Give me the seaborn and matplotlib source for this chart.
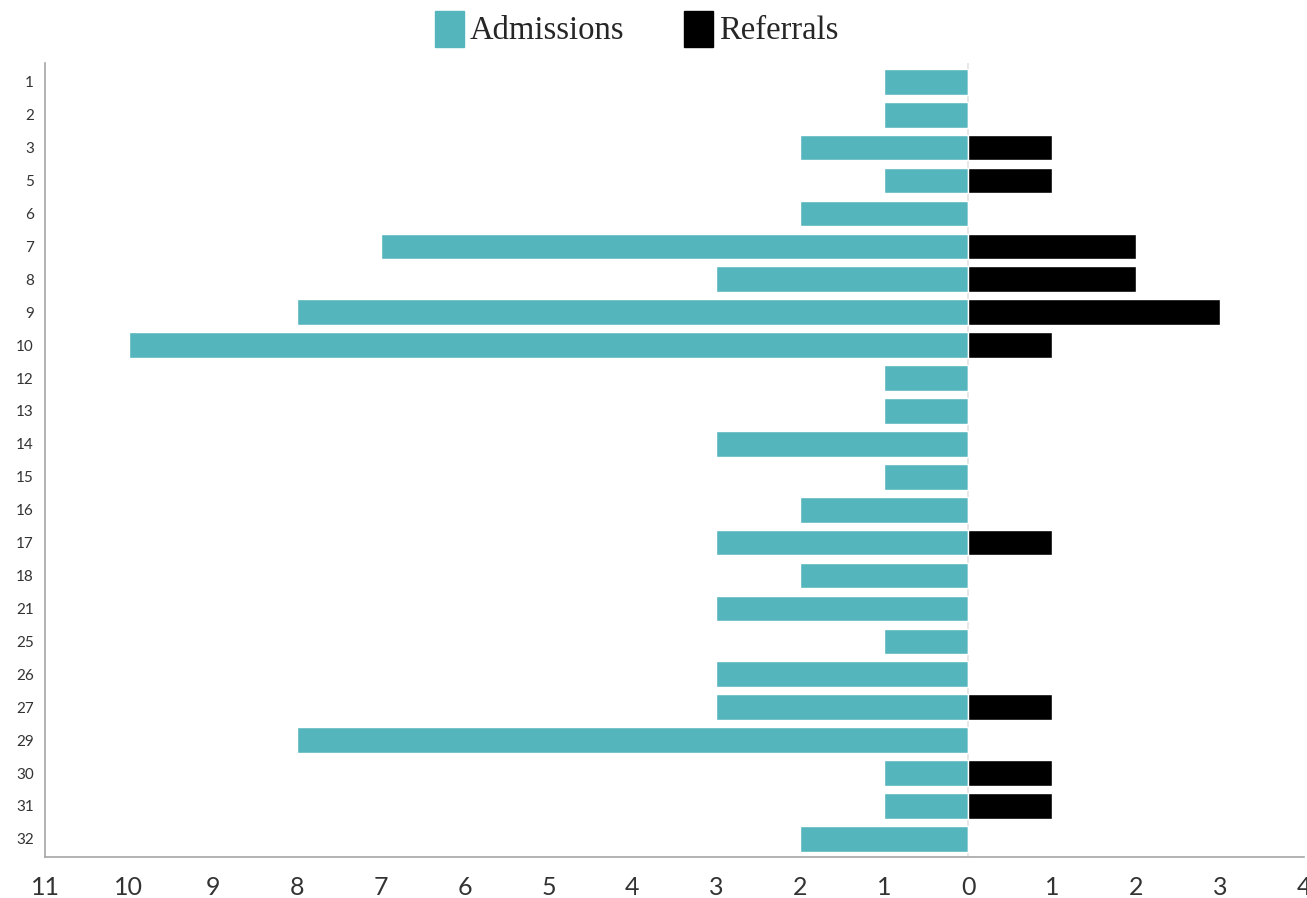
import matplotlib
matplotlib.use("Agg")
import matplotlib.pyplot as plt
from matplotlib.patches import Patch
from matplotlib.ticker import FuncFormatter, MultipleLocator
import pandas as pd
import seaborn as sns

# Weekly counts per category
categories = ["1", "2", "3", "5", "6", "7", "8", "9", "10", "12", "13", "14",
              "15", "16", "17", "18", "21", "25", "26", "27", "29", "30", "31", "32"]
admissions = [1, 1, 2, 1, 2, 7, 3, 8, 10, 1, 1, 3, 1, 2, 3, 2, 3, 1, 3, 3, 8, 1, 1, 2]
referrals = [0, 0, 1, 1, 0, 2, 2, 3, 1, 0, 0, 0, 0, 0, 1, 0, 0, 0, 0, 1, 0, 1, 1, 0]

TEAL = "#55b5bd"
BLACK = "#000000"

df = pd.DataFrame({
    "category": categories,
    "admissions": [-a for a in admissions],
    "referrals": referrals,
})

sns.set_theme(style="white")
plt.rcParams["font.family"] = ["Lato", "DejaVu Sans"]

fig = plt.figure(figsize=(13.07, 8.98), dpi=100)
ax = fig.add_axes([0.0344, 0.0457, 0.9632, 0.8841])

sns.barplot(data=df, x="admissions", y="category", order=categories,
            color=TEAL, saturation=1, width=0.78, orient="h", ax=ax)
sns.barplot(data=df, x="referrals", y="category", order=categories,
            color=BLACK, saturation=1, width=0.78, orient="h", ax=ax)

ax.axvline(0, color="#e3e3e3", lw=1.2, zorder=0)

ax.set_xlim(-11, 4)
ax.set_ylim(23.55, -0.57)
ax.xaxis.set_major_locator(MultipleLocator(1))
ax.xaxis.set_major_formatter(FuncFormatter(lambda v, _: f"{abs(int(round(v)))}"))
ax.set_xlabel("")
ax.set_ylabel("")

for side in ("top", "right"):
    ax.spines[side].set_visible(False)
for side in ("left", "bottom"):
    ax.spines[side].set_color("#a6a6a6")
    ax.spines[side].set_linewidth(1.2)

ax.tick_params(axis="x", length=0, pad=14, labelsize=18, labelcolor="#333333")
ax.tick_params(axis="y", length=0, pad=8, labelsize=11, labelcolor="#333333")

handles = [Patch(facecolor=TEAL, edgecolor=TEAL, label="Admissions"),
           Patch(facecolor=BLACK, edgecolor=BLACK, label="Referrals")]
fig.legend(handles=handles, loc="upper center", bbox_to_anchor=(0.487, 1.021),
           ncol=2, frameon=False, handlelength=0.88, handleheight=1.32,
           handletextpad=0.18, columnspacing=1.84,
           prop={"family": ["Liberation Serif", "DejaVu Serif"], "size": 23.5})

fig.savefig("out.png", dpi=100, facecolor="white")
